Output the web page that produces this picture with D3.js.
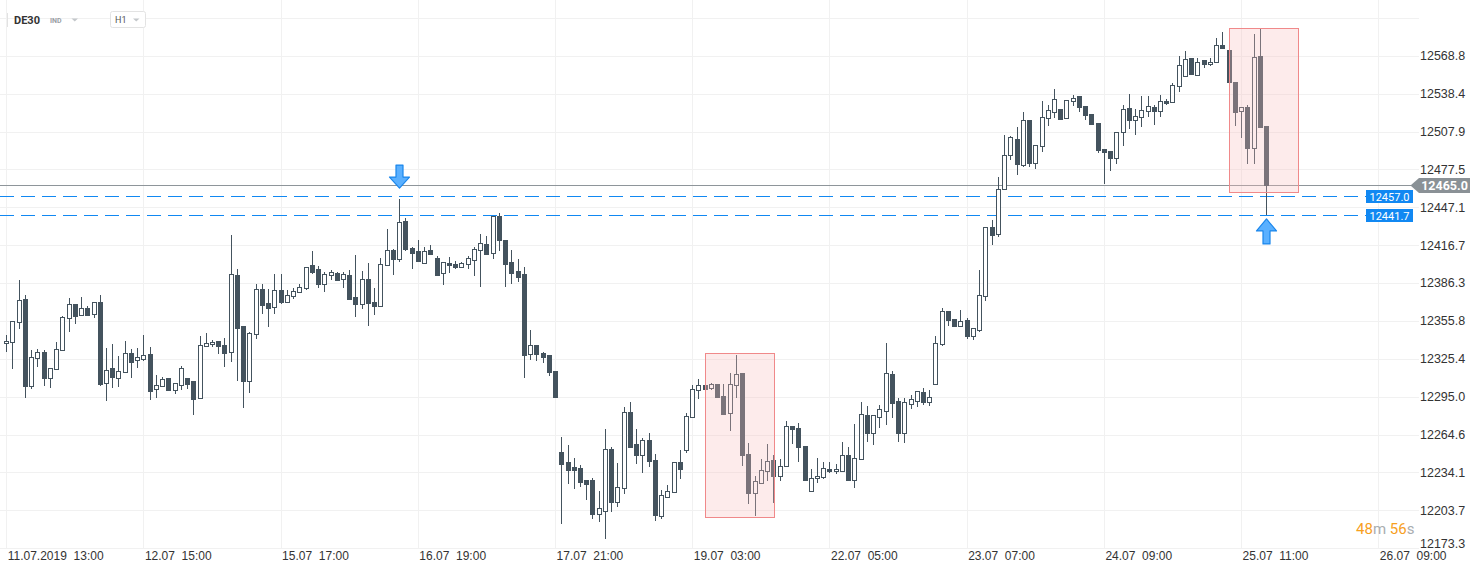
<!DOCTYPE html>
<html>
<head>
<meta charset="utf-8">
<script src="https://cdnjs.cloudflare.com/ajax/libs/d3/7.8.5/d3.min.js"></script>
<style>
  body { margin: 0; background: #fff; }
  svg { display: block; font-family: Roboto, Arial, sans-serif; }
</style>
</head>
<body>
<div id="chart"></div>
<script>
var svgWidth = 1482;
var svgHeight = 574;

// H1 candles, DE30, 11.07 13:00 -> 25.07 ~13:00
var opens = [
  12337.8,12338.6,12354.7,12373.1,12303.7,12326.2,12330.6,12310.2,12316.9,12332.2,
  12357.9,12369.4,12360.3,12365.9,12361.1,12370.7,12305.7,12318.0,12309.7,12314.5,
  12329.8,12324.1,12325.2,12329.0,12300.9,12303.3,12309.9,12300.5,12304.3,12309.7,
  12307.5,12293.6,12335.4,12337.0,12339.4,12336.2,12330.6,12392.4,12351.7,12307.8,
  12345.0,12381.2,12369.9,12366.7,12380.4,12370.7,12375.5,12378.8,12382.0,12400.4,
  12397.5,12385.2,12392.4,12394.0,12389.2,12392.7,12374.7,12369.1,12389.2,12371.0,
  12367.5,12400.4,12412.5,12405.3,12435.8,12414.3,12411.7,12402.5,12412.5,12406.1,
  12394.0,12402.0,12401.2,12398.8,12401.2,12404.5,12412.5,12417.3,12410.1,12439.8,
  12420.5,12402.9,12395.6,12393.2,12329.0,12336.2,12329.8,12328.2,12315.3,12250.3,
  12242.2,12238.5,12237.6,12227.8,12227.8,12200.5,12202.9,12252.7,12210.6,12221.4,
  12282.4,12256.7,12247.9,12259.9,12243.8,12199.3,12214.1,12218.1,12242.2,12251.9,
  12278.4,12300.1,12304.1,12301.7,12304.9,12295.2,12281.6,12304.1,12313.7,12248.7,
  12217.3,12225.6,12235.0,12243.8,12231.0,12239.0,12271.1,12269.5,12255.1,12218.9,
  12229.4,12230.2,12236.6,12235.0,12235.0,12247.9,12227.8,12244.6,12280.0,12265.5,
  12278.4,12283.2,12312.9,12291.2,12265.5,12288.8,12291.2,12298.4,12290.4,12304.9,
  12337.0,12363.5,12357.1,12351.5,12356.3,12343.4,12348.2,12375.5,12431.0,12425.3,
  12461.5,12488.8,12501.6,12480.8,12516.9,12482.4,12496.0,12518.5,12523.3,12525.7,
  12518.5,12532.1,12536.2,12528.1,12521.7,12514.5,12493.6,12492.0,12486.4,12507.3,
  12526.5,12516.9,12519.3,12524.1,12527.3,12524.1,12532.1,12531.3,12544.2,12552.2,
  12566.7,12553.0,12565.1,12561.9,12563.5,12577.1,12573.1,12547.4,12524.1,12527.3,
  12494.4,12568.3,12512.1
];
var highs = [
  12344.5,12355.5,12388.6,12376.8,12332.4,12333.2,12332.4,12317.7,12338.8,12359.7,
  12374.2,12369.4,12375.0,12367.8,12370.7,12376.8,12334.0,12337.2,12327.6,12339.6,
  12333.2,12334.0,12344.2,12334.6,12312.3,12310.5,12309.9,12305.7,12319.6,12309.7,
  12307.5,12343.7,12346.1,12340.5,12339.4,12341.8,12424.8,12397.5,12351.7,12346.9,
  12385.2,12385.2,12381.2,12393.2,12393.2,12380.4,12382.0,12385.2,12398.8,12411.9,
  12399.6,12394.8,12396.4,12394.8,12394.8,12396.7,12408.7,12395.6,12402.3,12382.0,
  12406.1,12429.6,12413.5,12453.7,12438.2,12415.4,12420.8,12415.1,12416.5,12407.9,
  12402.9,12407.1,12403.7,12402.9,12407.7,12414.9,12425.3,12423.7,12439.8,12442.2,
  12420.5,12412.5,12405.3,12398.8,12348.5,12336.2,12330.6,12328.2,12315.3,12262.3,
  12255.9,12245.7,12240.1,12227.8,12229.4,12218.9,12268.7,12254.3,12241.7,12286.4,
  12290.7,12269.0,12261.5,12265.5,12248.7,12219.7,12223.8,12242.2,12251.9,12281.6,
  12304.1,12308.9,12306.5,12305.7,12304.9,12304.9,12313.7,12328.4,12313.7,12257.5,
  12231.0,12244.6,12256.7,12247.9,12244.6,12275.2,12271.1,12273.6,12255.1,12236.6,
  12245.4,12242.2,12242.2,12240.6,12258.3,12254.3,12272.7,12290.4,12287.2,12280.0,
  12288.0,12337.8,12315.3,12293.6,12293.6,12296.0,12299.3,12301.7,12300.1,12343.4,
  12365.9,12363.5,12357.1,12364.3,12357.9,12349.8,12396.4,12431.0,12436.6,12471.1,
  12505.1,12504.0,12511.3,12523.3,12516.9,12496.8,12532.1,12528.9,12541.8,12525.7,
  12532.9,12537.0,12536.2,12528.1,12521.7,12514.5,12493.6,12492.0,12507.3,12528.9,
  12537.8,12525.7,12536.2,12536.2,12528.9,12537.0,12533.8,12546.6,12568.3,12572.3,
  12566.7,12566.7,12565.1,12566.7,12582.7,12587.6,12573.1,12547.4,12527.3,12528.9,
  12586.0,12590.8,12512.1
];
var lows = [
  12331.9,12318.2,12350.3,12294.9,12302.1,12319.6,12304.3,12302.9,12316.9,12332.2,
  12347.9,12354.3,12360.3,12360.3,12359.2,12304.6,12292.5,12302.9,12303.5,12314.5,
  12311.0,12319.0,12324.1,12292.8,12294.9,12303.3,12300.5,12298.1,12300.9,12302.1,
  12281.3,12293.6,12335.4,12335.9,12329.8,12319.8,12323.8,12308.3,12286.9,12298.9,
  12342.3,12362.4,12351.9,12362.4,12370.4,12370.7,12374.4,12378.8,12381.2,12394.5,
  12382.8,12379.6,12389.2,12388.9,12382.8,12373.6,12359.5,12366.4,12352.7,12361.6,
  12367.5,12400.4,12393.7,12403.7,12412.5,12398.5,12403.7,12402.5,12409.3,12392.4,
  12385.7,12395.3,12398.0,12398.8,12398.0,12392.9,12383.6,12409.3,12406.1,12412.5,
  12383.6,12386.5,12387.6,12311.0,12325.2,12324.4,12323.0,12312.6,12294.9,12193.7,
  12225.8,12221.8,12223.4,12213.0,12197.7,12195.3,12181.7,12203.4,12207.4,12217.8,
  12254.8,12241.9,12234.7,12239.0,12196.1,12197.7,12214.1,12218.1,12229.4,12250.3,
  12278.4,12293.6,12297.6,12300.9,12294.4,12281.3,12267.9,12294.4,12239.8,12209.8,
  12199.7,12225.6,12227.8,12210.1,12227.8,12239.0,12258.0,12243.0,12227.8,12218.9,
  12226.2,12229.4,12234.2,12233.4,12235.0,12227.8,12222.2,12244.6,12259.1,12256.7,
  12270.3,12272.7,12278.4,12259.1,12258.3,12285.6,12287.2,12288.8,12288.0,12304.9,
  12336.2,12352.3,12351.5,12351.5,12341.8,12341.0,12347.4,12372.3,12417.3,12423.7,
  12461.5,12485.6,12473.5,12479.9,12479.9,12478.3,12492.0,12512.9,12519.3,12517.7,
  12518.5,12528.9,12524.1,12517.7,12513.7,12491.2,12466.3,12476.7,12482.4,12496.8,
  12510.5,12505.6,12512.1,12520.1,12513.7,12520.1,12529.7,12531.3,12540.2,12552.2,
  12553.8,12553.0,12559.5,12561.1,12563.5,12574.7,12547.4,12512.9,12503.2,12482.4,
  12482.4,12511.3,12441.7
];
var closes = [
  12339.6,12355.5,12372.3,12303.7,12327.0,12330.6,12310.2,12317.7,12333.0,12358.7,
  12369.1,12360.0,12365.9,12360.8,12370.7,12305.4,12316.1,12310.5,12315.3,12329.8,
  12323.0,12326.6,12328.2,12299.7,12304.3,12309.1,12300.5,12305.7,12317.7,12305.4,
  12293.3,12336.2,12337.8,12338.6,12335.4,12330.3,12393.2,12350.3,12307.8,12345.8,
  12381.2,12368.8,12366.4,12380.4,12371.0,12376.3,12379.6,12383.0,12398.8,12395.3,
  12385.7,12393.2,12394.8,12388.9,12393.2,12373.6,12369.1,12389.2,12369.9,12367.5,
  12401.2,12412.5,12405.7,12435.0,12413.3,12410.6,12403.7,12411.7,12409.3,12392.4,
  12402.9,12400.4,12398.8,12402.0,12406.1,12413.3,12418.1,12409.3,12439.8,12420.5,
  12401.7,12394.5,12391.3,12328.6,12336.2,12329.0,12327.0,12315.0,12294.9,12241.1,
  12236.3,12236.3,12226.7,12225.0,12201.0,12205.3,12252.7,12210.6,12222.2,12282.4,
  12254.8,12247.9,12259.9,12243.0,12200.1,12215.7,12218.9,12242.2,12236.6,12279.2,
  12300.9,12304.1,12300.9,12304.9,12294.4,12281.3,12304.9,12312.9,12247.9,12217.3,
  12227.0,12235.8,12243.0,12231.0,12239.0,12271.1,12268.7,12254.3,12227.8,12229.4,
  12231.0,12237.4,12235.0,12236.6,12247.9,12227.8,12245.4,12280.8,12265.5,12280.0,
  12284.8,12313.7,12289.6,12265.5,12290.4,12292.8,12299.3,12290.4,12294.4,12337.8,
  12363.5,12356.3,12351.5,12355.5,12343.4,12349.8,12376.3,12431.0,12424.5,12461.5,
  12488.8,12503.2,12481.6,12516.9,12482.4,12496.8,12519.3,12524.9,12533.8,12517.7,
  12532.9,12534.6,12527.3,12520.9,12513.7,12492.8,12491.2,12486.4,12507.3,12525.7,
  12516.9,12520.1,12524.9,12528.1,12524.1,12532.1,12530.5,12545.0,12561.1,12565.9,
  12553.8,12563.5,12561.9,12563.5,12577.1,12574.7,12547.4,12523.3,12527.3,12494.4,
  12567.5,12511.3,12465.0
];

var priceTicks = ["12568.8","12538.4","12507.9","12477.5","12447.1","12416.7","12386.3",
  "12355.8","12325.4","12295.0","12264.6","12234.1","12203.7","12173.3"];
var gridExtra = [12599.2];
var timeTicks = [0, 22, 44, 66, 88, 110, 132, 154, 176, 198, 220];
var timeLabels = ["11.07.2019  13:00","12.07  15:00","15.07  17:00","16.07  19:00","17.07  21:00",
  "19.07  03:00","22.07  05:00","23.07  07:00","24.07  09:00","25.07  11:00","26.07  09:00"];

var lastPrice = 12465.0;
var levels = [12457.0, 12441.7];
// highlighted zones: bar index span and price span
var zoneFrom = [112.1, 196.1];
var zoneTo = [123.15, 207.2];
var zoneTop = [12329.8, 12590.8];
var zoneBottom = [12198.0, 12459.1];
// signal arrows: bar index and direction
var signalBar = [63, 202];
var signalDir = ["down", "up"];

var dark = "#44535e";
var blue = "#1188f2";

var svg = d3.select("#chart")
  .append("svg")
  .attr("width", svgWidth)
  .attr("height", svgHeight);

var x = d3.scaleLinear().domain([0, 220]).range([6.2, 1378.3]);
var y = d3.scaleLinear().domain([12173.3, 12568.8]).range([548.2, 55.7]);

// grid
var grid = svg.append("g");
grid.selectAll(".hgrid")
  .data(priceTicks.map(Number).concat(gridExtra))
  .enter().append("line")
  .attr("x1", 0).attr("x2", 1419)
  .attr("y1", d => Math.round(y(d)) + 0.5)
  .attr("y2", d => Math.round(y(d)) + 0.5)
  .attr("stroke", "#f1f1f1");
grid.selectAll(".vgrid")
  .data(timeTicks)
  .enter().append("line")
  .attr("x1", d => Math.round(x(d)) + 0.5)
  .attr("x2", d => Math.round(x(d)) + 0.5)
  .attr("y1", 0).attr("y2", 548)
  .attr("stroke", "#f1f1f1");

// level lines
svg.append("line")
  .attr("x1", 0).attr("x2", 1411)
  .attr("y1", Math.round(y(lastPrice)) + 0.5)
  .attr("y2", Math.round(y(lastPrice)) + 0.5)
  .attr("stroke", "#8e959a");

svg.selectAll(".level")
  .data(levels)
  .enter().append("line")
  .attr("x1", 0).attr("x2", 1366)
  .attr("y1", d => Math.round(y(d)) + 1.5)
  .attr("y2", d => Math.round(y(d)) + 1.5)
  .attr("stroke", blue)
  .attr("stroke-dasharray", "14,7");

// candles
var bars = d3.range(opens.length).map(function(i) {
  return {i: i, o: opens[i], h: highs[i], l: lows[i], c: closes[i]};
});

var candles = svg.append("g").selectAll("g")
  .data(bars)
  .enter().append("g");

candles.append("line")
  .attr("x1", d => Math.round(x(d.i)) + 0.5)
  .attr("x2", d => Math.round(x(d.i)) + 0.5)
  .attr("y1", d => Math.round(y(d.h)))
  .attr("y2", d => Math.round(y(d.l)) + 1)
  .attr("stroke", dark);

candles.append("rect")
  .attr("x", d => Math.round(x(d.i)) - 1.5)
  .attr("y", d => Math.round(y(Math.max(d.o, d.c))) + 0.5)
  .attr("width", 4)
  .attr("height", d => Math.max(1, Math.round(y(Math.min(d.o, d.c))) - Math.round(y(Math.max(d.o, d.c)))))
  .attr("fill", d => d.c > d.o ? "#ffffff" : dark)
  .attr("stroke", dark);

// highlighted zones
svg.selectAll(".zone")
  .data(zoneFrom)
  .enter().append("rect")
  .attr("x", (d, k) => Math.round(x(d)) + 0.5)
  .attr("y", (d, k) => Math.round(y(zoneTop[k])) + 0.5)
  .attr("width", (d, k) => Math.round(x(zoneTo[k]) - x(d)))
  .attr("height", (d, k) => Math.round(y(zoneBottom[k]) - y(zoneTop[k])))
  .attr("fill", "rgba(248,190,190,0.3)")
  .attr("stroke", "#f0898a");

// arrows
signalBar.forEach(function(b, k) {
  var cx = Math.round(x(b)) + 0.5;
  var pts;
  if (signalDir[k] === "down") {
    var tip = y(highs[b]) - 11;
    pts = [[cx, tip], [cx - 10, tip - 11], [cx - 3.5, tip - 11], [cx - 3.5, tip - 23],
           [cx + 3.5, tip - 23], [cx + 3.5, tip - 11], [cx + 10, tip - 11]];
  } else {
    var tip2 = y(lows[b]) + 5;
    pts = [[cx, tip2], [cx - 10, tip2 + 12], [cx - 3.5, tip2 + 12], [cx - 3.5, tip2 + 25],
           [cx + 3.5, tip2 + 25], [cx + 3.5, tip2 + 12], [cx + 10, tip2 + 12]];
  }
  svg.append("polygon")
    .attr("points", pts.map(p => p.join(",")).join(" "))
    .attr("fill", "#5ab0ff")
    .attr("stroke", "#1a86ec")
    .attr("stroke-width", 1.2)
    .attr("stroke-linejoin", "round");
});

// price axis
var priceAxis = svg.append("g")
  .attr("transform", "translate(1420,0)")
  .call(d3.axisRight(y)
    .tickValues(priceTicks.map(Number))
    .tickFormat((d, k) => priceTicks[k])
    .tickSize(0)
    .tickPadding(0));
priceAxis.select(".domain").remove();
priceAxis.selectAll("text")
  .attr("fill", "#333")
  .style("font-size", "12.5px")
  .attr("y", d => d < 12180 ? -5 : 0);

// time axis
var timeAxis = svg.append("g")
  .attr("transform", "translate(0,548)")
  .call(d3.axisBottom(x)
    .tickValues(timeTicks)
    .tickFormat((d, k) => timeLabels[k])
    .tickSize(0)
    .tickPadding(3));
timeAxis.select(".domain").remove();
timeAxis.selectAll("text")
  .attr("text-anchor", "start")
  .attr("x", 1)
  .attr("fill", "#333")
  .style("font-size", "12px")
  .style("white-space", "pre");

// level tags
svg.selectAll(".levtag")
  .data(levels)
  .enter().append("rect")
  .attr("x", 1366).attr("width", 47)
  .attr("y", d => Math.round(y(d)) - 5)
  .attr("height", 13)
  .attr("fill", blue);
svg.selectAll(".levtxt")
  .data(levels)
  .enter().append("text")
  .attr("x", 1389.5)
  .attr("y", d => Math.round(y(d)) + 5.5)
  .attr("text-anchor", "middle")
  .attr("fill", "#fff")
  .style("font-size", "11px")
  .text(d => d.toFixed(1));

var ly = Math.round(y(lastPrice)) + 0.5;
svg.append("polygon")
  .attr("points", [[1410.5, ly], [1419, ly - 7.5], [1470, ly - 7.5], [1470, ly + 7.5], [1419, ly + 7.5]]
    .map(p => p.join(",")).join(" "))
  .attr("fill", "#8a9196");
svg.append("text")
  .attr("x", 1444.5).attr("y", ly + 4.5)
  .attr("text-anchor", "middle")
  .attr("fill", "#fff")
  .style("font-size", "12.5px")
  .style("font-weight", "bold")
  .text(lastPrice.toFixed(1));

// header
svg.append("line")
  .attr("x1", 7.5).attr("x2", 7.5).attr("y1", 13).attr("y2", 27)
  .attr("stroke", "#e2e2e2");
svg.append("text")
  .attr("x", 14).attr("y", 23.5)
  .attr("fill", "#333")
  .style("font-size", "11px")
  .style("font-weight", "bold")
  .text("DE30");
svg.append("text")
  .attr("x", 50).attr("y", 23)
  .attr("fill", "#9aa0a4")
  .style("font-size", "7px")
  .style("font-weight", "bold")
  .text("IND");
svg.append("path")
  .attr("d", "M71.5,18.5 L78,18.5 L74.75,21.5 Z")
  .attr("fill", "#c4c8cb");
svg.append("rect")
  .attr("x", 110.5).attr("y", 11.5).attr("width", 35).attr("height", 16).attr("rx", 2)
  .attr("fill", "#fff")
  .attr("stroke", "#e3e3e3");
svg.append("text")
  .attr("x", 115).attr("y", 23)
  .attr("fill", "#555")
  .style("font-size", "9px")
  .text("H1");
svg.append("path")
  .attr("d", "M133,18.5 L139.5,18.5 L136.25,21.5 Z")
  .attr("fill", "#c4c8cb");

// candle timer
var timer = svg.append("text")
  .attr("x", 1356).attr("y", 534)
  .style("font-size", "15px");
timer.append("tspan").attr("fill", "#f7a01e").text("48");
timer.append("tspan").attr("fill", "#a9adb0").text("m ");
timer.append("tspan").attr("fill", "#f7a01e").text("56");
timer.append("tspan").attr("fill", "#a9adb0").text("s");
</script>
</body>
</html>
